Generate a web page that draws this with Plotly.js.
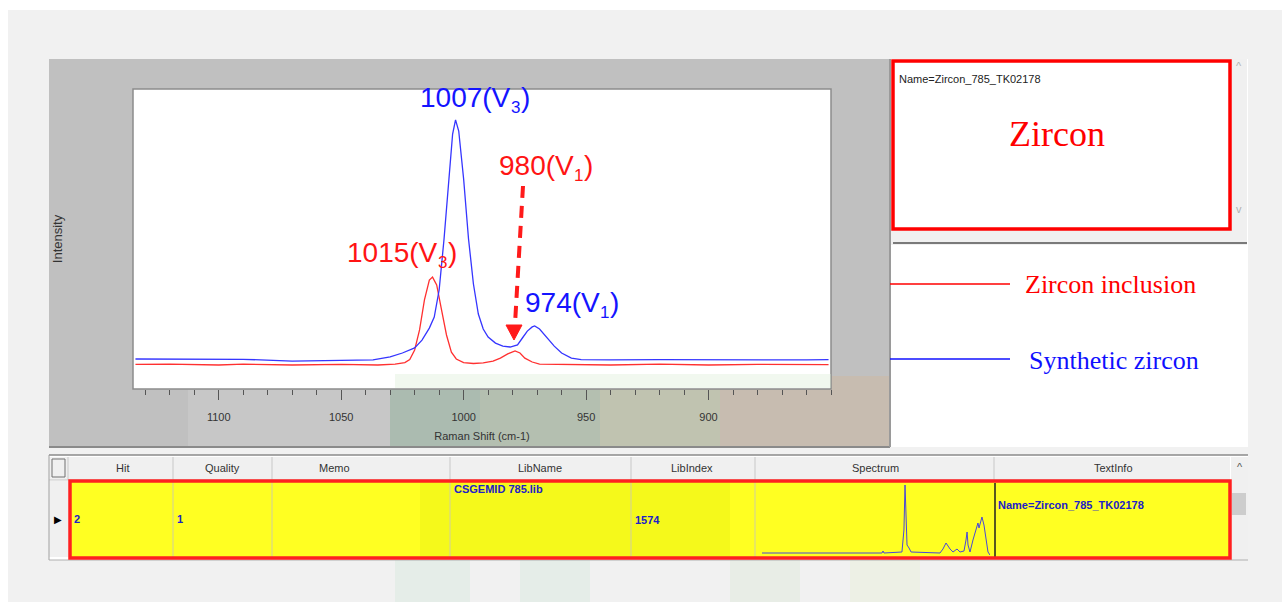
<!DOCTYPE html>
<html><head><meta charset="utf-8">
<script src="https://cdn.plot.ly/plotly-3.0.1.min.js"></script>
<style>html,body{margin:0;padding:0;background:#fff;}#chart{width:1282px;height:602px;}</style>
</head><body><div id="chart"></div>
<script>
// ---------- DATA ----------
const blueShift = [1134,1110,1090,1070,1050,1037,1030,1025,1020,1017,1014,1012,1010,1008,1006,1004.5,1003.3,1002,1000,998,996,994,992,990,987,984,981,978,976,974,972,971,969,966,963,960,956,952,940,920,900,880,860,851];
const blueIntensity = [10.0,10.0,9.9,9.3,9.5,9.7,10.7,12.0,13.7,16.3,20.3,24.0,33.0,50.0,70.0,85.0,89.7,86.0,70.0,50.0,35.0,25.0,20.0,17.3,15.3,14.3,14.0,14.7,17.0,19.3,20.7,21.0,20.0,17.3,14.3,12.0,10.3,9.8,9.7,9.8,9.7,9.8,9.7,9.8];
const redShift = [1134,1120,1100,1090,1070,1050,1035,1028,1024,1022,1020,1018,1016,1014,1012.7,1011,1009,1007,1005,1003,1000,996,992,988,985,982,979,977,975,972,969,960,940,920,900,880,860,851];
const redIntensity = [8.2,8.3,8.0,8.3,8.0,8.2,8.0,8.3,8.8,9.8,13.0,19.7,29.7,36.3,37.3,34.7,26.3,18.0,12.3,10.0,8.8,8.5,8.7,9.3,10.3,11.7,12.7,12.0,10.3,9.0,8.3,8.2,8.0,8.3,8.0,8.2,8.0,8.1];
const seriesNames = ['Zircon inclusion','Synthetic zircon'];
const peakMain = ['1007(V','1015(V','980(V','974(V'];
const peakSub = ['3','3','1','1'];
const xTickVals = [1100,1050,1000,950,900];
// library thumbnail spectrum (Zircon_785_TK02178)
const thumbShift = [2217,1472,1202,1193,1185,1033,1016,1007,999,990,973,956,711,686,660,626,601,567,542,508,491,482,474,457,432,407,390,381,373,356,339,322,305,288];
const thumbIntensity = [4,4,4,6,4,5,27,72,47,12,9,5,4,8,14,8,5,8,5,6,17,25,12,5,17,27,34,29,32,40,32,17,5,2];
// table content
const tableHeaders = ['Hit','Quality','Memo','LibName','LibIndex','Spectrum','TextInfo'];
const tableRow = ['2','1','','CSGEMID 785.lib','1574','','Name=Zircon_785_TK02178'];
const matchName = 'Name=Zircon_785_TK02178';
const matchMineral = 'Zircon';

// ---------- LAYOUT HELPERS ----------
const W = 1282, H = 602;
const px = x => x / W, py = y => 1 - y / H;
const shapes = [];
function rect(x0,y0,x1,y1,fill,line,lw,layer){
  shapes.push({type:'rect',xref:'paper',yref:'paper',x0:px(x0),x1:px(x1),y0:py(y0),y1:py(y1),
    fillcolor:fill||'rgba(0,0,0,0)',line:{color:line||'rgba(0,0,0,0)',width:line?(lw||1):0},layer:layer||'below'});
}
function seg(x0,y0,x1,y1,color,w,layer,dash){
  shapes.push({type:'line',xref:'paper',yref:'paper',x0:px(x0),x1:px(x1),y0:py(y0),y1:py(y1),
    line:{color:color,width:w||1,dash:dash||'solid'},layer:layer||'below'});
}
const ann = [];
function txt(x,y,t,opts){
  opts = opts||{};
  ann.push({xref:'paper',yref:'paper',x:px(x),y:py(y),text:t,showarrow:false,
    xanchor:opts.xa||'center',yanchor:opts.ya||'middle',
    font:{family:opts.family||'Liberation Sans, Arial, sans-serif',size:opts.size||11,color:opts.color||'#333',weight:opts.weight||'normal'}});
}
const narrow = '"Liberation Sans Narrow", "Arial Narrow", "Liberation Sans", Arial, sans-serif';
const serif = '"Liberation Serif", "Times New Roman", serif';
const big = 'Liberation Sans, Arial, sans-serif';
const ctx = document.createElement('canvas').getContext('2d');
function tw(s,size,fam){ ctx.font = size+'px '+fam; return ctx.measureText(s).width; }
// peak label with subscript: main text, lowered small digit, closing paren
function peakLabel(left,yc,main,sub,color){
  const S = 28, s = 17;
  const w1 = tw(main,S,big), w2 = tw(sub,s,big);
  txt(left,yc,main,{xa:'left',size:S,color:color,family:big});
  txt(left+w1+0.5,yc+10,sub,{xa:'left',size:s,color:color,family:big});
  txt(left+w1+w2+1,yc,')',{xa:'left',size:S,color:color,family:big});
}

// page backgrounds
rect(8,10,1282,602,'#f1f1f1');
rect(49,59,890,447,'#c0c0c0');
rect(188,376,390,447,'rgba(255,255,255,0.12)');
seg(49,447,890,447,'#8a8a8a',2);
// faint watermark tints on the gray panel
rect(390,376,480,446,'rgba(120,175,135,0.28)');
rect(480,376,600,446,'rgba(150,190,135,0.28)');
rect(600,376,720,446,'rgba(195,205,135,0.28)');
rect(720,376,890,446,'rgba(215,180,140,0.3)');
// faint watermark tints below the table
rect(395,560,470,602,'rgba(170,215,185,0.16)');
rect(520,560,590,602,'rgba(170,215,185,0.16)');
rect(730,560,800,602,'rgba(200,225,190,0.2)');
rect(850,560,920,602,'rgba(225,235,185,0.22)');
// main plot area
rect(133,89,831,389,'#ffffff','#8c8c8c',1.5);
rect(395,374,831,388,'rgba(215,235,210,0.35)');
// right info panel
rect(890,59,1248,447,'#ffffff');
rect(1230,59,1247,232,'#f0f0f0');
rect(890,229,1247,245,'#f0f0f0');
seg(893,243,1247,243,'#7a7a7a',2);
seg(890,59,890,447,'#9a9a9a',2);
rect(893,61,1230,229,null,'#ff0000',3.5,'above');
seg(890,284,1010,284,'#ff0000',1.5);
seg(890,359,1010,359,'#1010ff',1.5);
// table
rect(49,455,1248,560,'#ffffff');
seg(49,455,1248,455,'#8a8a8a',1.5);
rect(49,457,1230,480,'#f0f0f0');
seg(49,480,1230,480,'#c8c8c8',1);
[68,173,272,450,631,755,994].forEach(x=>seg(x,457,x,480,'#c8c8c8',1));
rect(52,459,65,477,null,'#707070',1);
rect(49,481,69,557,'#f0f0f0');
rect(70,481,1230,557,'#ffff22');
rect(420,481,730,557,'rgba(200,220,0,0.18)');
[173,272,450,631,755].forEach(x=>seg(x,481,x,557,'#cfcfa0',1));
seg(995,483,995,557,'#202020',1.5);
rect(70,481,1230,558,null,'#ff2020',3.5,'above');
rect(1231,457,1248,560,'#f0f0f0');
rect(1232,493,1246,515,'#cdcdcd');
seg(49,560,1248,560,'#b0b0b0',1);
seg(49,455,49,560,'#a0a0a0',1);
// dashed arrow for 980(V1)
seg(523,186,515,324,'#ff1a1a',4,'above','12px,8px');
shapes.push({type:'path',xref:'paper',yref:'paper',layer:'above',
  path:`M ${px(506)},${py(325)} L ${px(522)},${py(325)} L ${px(514)},${py(340)} Z`,
  fillcolor:'#ff1a1a',line:{color:'#ff1a1a',width:1}});

// peak labels
peakLabel(418,97,peakMain[0],peakSub[0],'#1414ff');
peakLabel(345,253,peakMain[1],peakSub[1],'#ff1414');
peakLabel(497,165,peakMain[2],peakSub[2],'#ff1414');
peakLabel(523,302,peakMain[3],peakSub[3],'#1414ff');
// info panel text
txt(897,79,matchName,{xa:'left',size:11,color:'#222',family:narrow});
txt(1057,134,matchMineral,{size:36,color:'#ff0000',family:serif});
txt(1023,284,seriesNames[0],{xa:'left',size:26,color:'#ff0000',family:serif});
txt(1027,360,seriesNames[1],{xa:'left',size:26,color:'#1010ff',family:serif});
txt(1239,66,'^',{size:11,color:'#b0b0b0'});
txt(1239,209,'v',{size:11,color:'#b0b0b0'});
// table header text
const headerX = [122,222,334,540,692,875,1113];
tableHeaders.forEach((h,i)=>txt(headerX[i],468,h,{size:11,color:'#333',family:narrow}));
txt(1240,467,'^',{size:11,color:'#555'});
txt(58,519,'\u25B6',{size:10,color:'#000'});
// table row text
const rowX = [72,175,274,452,633,757,996];
const rowY = [519,519,519,489,520,519,505];
tableRow.forEach((v,i)=>{ if(v) txt(rowX[i],rowY[i],v,{xa:'left',size:11,color:'#2020c8',family:narrow,weight:'bold'}); });

const traces = [
  {x:redShift,y:redIntensity,type:'scatter',mode:'lines',name:seriesNames[0],line:{color:'#ff3030',width:1.3}},
  {x:blueShift,y:blueIntensity,type:'scatter',mode:'lines',name:seriesNames[1],line:{color:'#3535ff',width:1.3}},
  {x:thumbShift,y:thumbIntensity,type:'scatter',mode:'lines',name:'Library spectrum',xaxis:'x2',yaxis:'y2',line:{color:'#4848d8',width:1}}
];

const layout = {
  width:W,height:H,margin:{l:0,r:0,t:0,b:0},
  paper_bgcolor:'#ffffff',plot_bgcolor:'rgba(0,0,0,0)',showlegend:false,
  xaxis:{domain:[px(133),px(831)],range:[1135,850],tickvals:xTickVals,ticks:'outside',ticklen:10,tickwidth:1,tickcolor:'#555',
    minor:{dtick:10,tick0:0,ticks:'outside',ticklen:5,tickcolor:'#555',showgrid:false},
    ticklabelstandoff:8,
    tickfont:{family:narrow,size:11,color:'#333'},showgrid:false,zeroline:false,showline:false,
    title:{text:'Raman Shift (cm-1)',font:{family:narrow,size:11,color:'#333'},standoff:10}},
  yaxis:{domain:[py(389),py(89)],range:[0,100],showticklabels:false,ticks:'',showgrid:false,zeroline:false,showline:false,
    title:{text:'Intensity',font:{family:big,size:13,color:'#333'},standoff:66}},
  xaxis2:{domain:[px(762),px(990)],range:[2217,288],visible:false,anchor:'y2'},
  yaxis2:{domain:[py(557),py(483)],range:[0,74],visible:false,anchor:'x2'},
  shapes:shapes,annotations:ann
};
Plotly.newPlot('chart',traces,layout,{displayModeBar:false,staticPlot:true});
</script></body></html>
